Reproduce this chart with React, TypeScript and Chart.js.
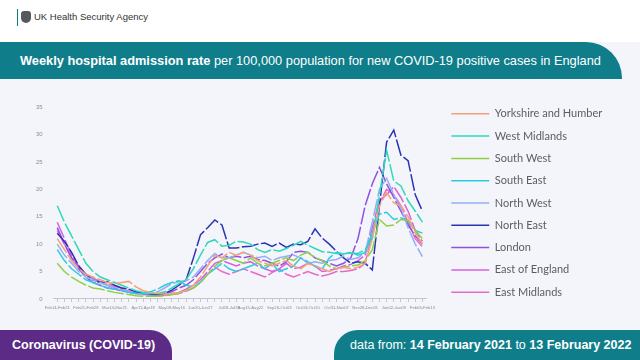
import React, { useEffect, useRef } from 'react';
import { Chart, registerables } from 'chart.js';

Chart.register(...registerables);

// Week start labels (52 weeks, 14 Feb 2021 – 13 Feb 2022)
const WEEKS = [
  'Feb14', 'Feb21', 'Feb28', 'Mar07', 'Mar14', 'Mar21', 'Mar28', 'Apr04', 'Apr11', 'Apr18', 'Apr25',
  'May02', 'May09', 'May16', 'May23', 'May30', 'Jun06', 'Jun13', 'Jun20', 'Jun27', 'Jul04', 'Jul11',
  'Jul18', 'Jul25', 'Aug01', 'Aug08', 'Aug15', 'Aug22', 'Aug29', 'Sep05', 'Sep12', 'Sep19', 'Sep26',
  'Oct03', 'Oct10', 'Oct17', 'Oct24', 'Oct31', 'Nov07', 'Nov14', 'Nov21', 'Nov28', 'Dec05', 'Dec12',
  'Dec19', 'Dec26', 'Jan02', 'Jan09', 'Jan16', 'Jan23', 'Jan30', 'Feb06',
];

// Tick labels shown on the x axis, and the week index each one sits at
const TICK_LABELS = [
  'Feb14-Feb21', 'Feb21-Feb28', 'Mar14-Mar21', 'Apr11-Apr18', 'May09-May16', 'Jun20-Jun27',
  'Jul18-Jul25', 'Aug15-Aug22', 'Sep26-Oct03', 'Oct03-Oct10', 'Oct31-Nov07', 'Nov28-Dec05',
  'Jan02-Jan09', 'Feb06-Feb13',
];
const TICK_INDEX = [0, 4, 8, 12, 16, 20, 24, 27, 31, 35, 39, 43, 47, 51];

const Y_TICKS = [0, 5, 10, 15, 20, 25, 30, 35];

const YORKSHIRE = [11, 9, 7, 5.5, 4.5, 4, 3.5, 3, 2.8, 3, 3.2, 2.2, 1.5, 1.2, 1, 0.9, 1, 1.2, 1.5, 2.5, 4, 6, 8, 7.5, 8.5, 8, 8.5, 8, 7, 6.5, 6, 6.5, 7, 6, 5.5, 6.5, 6, 5.5, 5, 5.5, 5.8, 5.5, 5.8, 6.5, 11, 17, 19.4, 17.5, 17, 15, 12, 10];
const WEST_MIDLANDS = [17, 14, 11.5, 9, 6.5, 5, 4, 3.5, 3, 2.5, 2, 1.5, 1.2, 1, 1, 1.3, 2, 2.8, 3.5, 5.5, 8, 10.3, 10.8, 9.6, 9.8, 10.5, 10.4, 10, 9, 8.5, 9, 8.7, 9.2, 9.8, 10.5, 9.8, 9.2, 8.6, 8.5, 8.3, 8.2, 8.4, 8.3, 9, 11, 19, 27.1, 21.5, 20.6, 17.9, 16, 14];
const SOUTH_WEST = [6.5, 5, 4, 3.2, 2.5, 2, 1.8, 1.5, 1.2, 1, 0.8, 0.6, 0.5, 0.5, 0.5, 0.6, 0.8, 1, 1.5, 2, 3, 4.5, 6, 7, 7.5, 7, 6.5, 7.5, 6.5, 6, 6.5, 7, 7.5, 7, 8, 8.5, 7.5, 7, 6, 5.5, 5.8, 6, 6.2, 7, 9, 14.5, 13.3, 13.5, 14.5, 14.3, 12.5, 11];
const SOUTH_EAST = [9, 7, 5.5, 4.5, 3.5, 3, 2.5, 2, 1.8, 1.5, 1.2, 1, 1, 1.3, 1.8, 2.5, 3, 3.3, 2.5, 2.2, 3, 4.5, 5.5, 6.5, 5.5, 5, 5.5, 6, 6.5, 5.5, 6.5, 5, 5.5, 6, 7.5, 6.8, 6, 5.5, 7.5, 8.5, 8.2, 8.5, 8, 8.5, 12, 15.5, 15.8, 14.5, 14.8, 14.2, 12.5, 12];
const NORTH_WEST = [10, 8, 6.5, 5, 4, 3.5, 3, 2.5, 2, 1.6, 1.3, 1, 0.9, 1, 1.3, 2, 2.8, 3.2, 3.3, 4, 5.5, 7, 8.3, 7.5, 7.5, 8, 8.5, 8, 7.5, 7.8, 7, 7.5, 7.8, 8, 7.5, 6.5, 6.8, 6.5, 7, 7.2, 7.8, 7.2, 7.5, 8.5, 14, 20, 22, 19, 16.5, 13, 10, 7.7];
const NORTH_EAST = [12, 10.5, 8.5, 6, 4.5, 3.5, 3, 3.2, 2.5, 2, 1.8, 1.3, 1, 0.9, 0.8, 1, 1.6, 2.5, 3.5, 7.4, 11.7, 13, 14.4, 13.5, 9.3, 9.3, 9.5, 9.6, 10, 10.2, 9.6, 10.2, 9.4, 10, 9.9, 10.5, 12.8, 11.1, 10, 8.7, 7.5, 6.5, 6.8, 6.5, 5.3, 17, 28.6, 30.8, 26.2, 25.2, 19, 16];
const LONDON = [13, 10, 7.5, 5.5, 4, 3, 2.5, 2, 1.8, 1.5, 1.2, 1, 0.8, 0.8, 0.8, 1, 1.3, 2, 2.5, 3.5, 5, 6.5, 7.5, 8.2, 7.5, 7.8, 7.5, 7.8, 7.2, 7, 6.5, 6, 6.8, 8.5, 8.7, 8.5, 7.5, 7, 6.5, 6, 6.5, 7.5, 11, 17, 21, 24, 21, 18.5, 16, 13.5, 11.5, 10];
const EAST_OF_ENGLAND = [14, 11, 8, 6, 4.5, 3.5, 3, 2.5, 2, 1.7, 1.4, 1.1, 0.9, 0.7, 0.6, 0.7, 0.9, 1.2, 1.8, 2.5, 3.5, 5, 6.5, 7, 6.5, 6, 6.5, 6.8, 6, 5.5, 5, 5.5, 6.5, 5.5, 5.8, 6.5, 6, 5, 5.2, 5.5, 6, 6.3, 7, 8, 13, 18, 19, 20.5, 18.5, 16, 12.5, 10.5];
const EAST_MIDLANDS = [12.5, 10, 7.5, 5.8, 4.5, 3.8, 3.2, 2.8, 2.3, 2, 1.7, 1.3, 1, 0.8, 0.6, 0.6, 0.8, 1, 1.4, 2, 3, 4.5, 5.8, 5, 4.5, 5, 5.5, 5, 4.5, 4, 4.8, 5.5, 4.5, 4, 4.5, 5, 4.5, 4.2, 4.5, 5, 5, 5.2, 5.5, 6.5, 12, 17.5, 20, 19, 17, 14, 11, 9.5];

const REGIONS = ['Yorkshire and Humber', 'West Midlands', 'South West', 'South East', 'North West', 'North East', 'London', 'East of England', 'East Midlands'];
const VALUES = [YORKSHIRE, WEST_MIDLANDS, SOUTH_WEST, SOUTH_EAST, NORTH_WEST, NORTH_EAST, LONDON, EAST_OF_ENGLAND, EAST_MIDLANDS];
const COLORS = ['#f4a07a', '#2fd8b8', '#8fcf45', '#2ccbe0', '#93aef2', '#2a33b5', '#9050e0', '#d660e0', '#e86ac8'];

const TEAL = '#0f7e8a';
const PURPLE = '#5b2b86';

const LEGEND_FONT = { family: 'Lato', size: 11 };
const LEGEND_PAD = 11.3;
const LEGEND_LINE = 38;
const LEGEND_START = 440; // left edge of legend box (px)

function ChartCanvas() {
  const ref = useRef<HTMLCanvasElement | null>(null);
  useEffect(() => {
    if (!ref.current) return;
    const tickMap: Record<number, string> = {};
    TICK_INDEX.forEach((idx, i) => { tickMap[idx] = TICK_LABELS[i]; });

    // measure legend text so the legend box can be placed where the reference has it
    const mctx = document.createElement('canvas').getContext('2d')!;
    mctx.font = `${LEGEND_FONT.size}px "${LEGEND_FONT.family}"`;
    const textW = Math.max(...REGIONS.map((r) => mctx.measureText(r).width));
    const legendW = LEGEND_PAD + LEGEND_LINE + LEGEND_FONT.size / 2 + textW + 10;
    const rightPad = Math.max(0, 640 - LEGEND_START - legendW);

    const chart = new Chart(ref.current, {
      type: 'line',
      data: {
        labels: WEEKS,
        datasets: REGIONS.map((label, i) => ({
          label,
          data: VALUES[i],
          borderColor: COLORS[i],
          backgroundColor: COLORS[i],
          borderWidth: 1.5,
          borderDash: [17, 2.5],
          pointRadius: 0,
          tension: 0,
          fill: false,
        })),
      },
      options: {
        responsive: false,
        animation: false,
        layout: { padding: { top: 7, left: 33, right: rightPad, bottom: 7 } },
        scales: {
          x: {
            offset: true,
            grid: { drawOnChartArea: false, drawTicks: true, tickLength: 3, color: '#c4c6cc' },
            border: { display: true, color: '#c4c6cc' },
            ticks: {
              autoSkip: false,
              maxRotation: 0,
              minRotation: 0,
              padding: 3,
              color: '#8a8d94',
              font: { family: 'Liberation Sans', size: 4.2 },
              callback: (_v: any, index: number) => tickMap[index] ?? '',
            },
          },
          y: {
            min: 0,
            max: 35,
            afterBuildTicks: (scale: any) => { scale.ticks = Y_TICKS.map((v) => ({ value: v })); },
            grid: { display: false },
            border: { display: false },
            ticks: { padding: 3, color: '#8a8d94', font: { family: 'Liberation Sans', size: 6 } },
          },
          yR: {
            type: 'linear',
            position: 'right',
            display: true,
            grid: { display: false },
            border: { display: false },
            ticks: { display: false },
            afterFit: (s: any) => { s.width = 14; },
          },
        },
        plugins: {
          title: { display: true, text: ' ', fullSize: false, font: { size: 1 }, padding: { top: 8.8, bottom: 0 } },
          legend: {
            position: 'right',
            align: 'start',
            maxWidth: 400,
            labels: {
              usePointStyle: true,
              pointStyle: 'line',
              pointStyleWidth: LEGEND_LINE,
              padding: LEGEND_PAD,
              color: '#5a5d66',
              font: LEGEND_FONT,
            },
          },
          tooltip: { enabled: false },
        },
      },
    });
    return () => chart.destroy();
  }, []);
  return <canvas ref={ref} width={640} height={230} style={{ display: 'block' }} />;
}

export default function App() {
  return (
    <div style={{ position: 'fixed', left: 0, top: 0, width: 640, height: 360, background: '#ffffff', overflow: 'hidden', fontFamily: '"Liberation Sans", Arial, sans-serif' }}>
      <div style={{ position: 'absolute', left: 17, top: 9, width: 1, height: 17, background: TEAL }} />
      <div style={{ position: 'absolute', left: 21, top: 11, width: 10, height: 12, background: '#55585e', borderRadius: '3px 3px 5px 5px' }} />
      <div style={{ position: 'absolute', left: 34, top: 10, fontSize: 9.5, color: '#333', lineHeight: '14px' }}>UK Health Security Agency</div>

      <div style={{ position: 'absolute', left: 0, top: 42, width: 640, height: 318, background: '#f4f5fa' }} />
      <div style={{ position: 'absolute', left: 0, top: 42, width: 622, height: 37, background: TEAL, borderTopRightRadius: 36 }} />
      <div style={{ position: 'absolute', left: 20, top: 42, height: 37, lineHeight: '37px', fontSize: 12.8, color: '#ffffff', whiteSpace: 'nowrap' }}>
        <b>Weekly hospital admission rate</b> per 100,000 population for new COVID-19 positive cases in England
      </div>

      <div style={{ position: 'absolute', left: 0, top: 90, width: 640, height: 230 }}>
        <ChartCanvas />
      </div>

      <div style={{ position: 'absolute', left: 0, top: 330, width: 172, height: 30, background: PURPLE, borderTopRightRadius: 22 }} />
      <div style={{ position: 'absolute', left: 12, top: 330, height: 30, lineHeight: '30px', fontSize: 12.5, fontWeight: 'bold', color: '#ffffff', whiteSpace: 'nowrap' }}>
        Coronavirus (COVID-19)
      </div>
      <div style={{ position: 'absolute', left: 334, top: 330, width: 306, height: 30, background: TEAL, borderTopLeftRadius: 24 }} />
      <div style={{ position: 'absolute', left: 350, top: 330, height: 30, lineHeight: '30px', fontSize: 12.5, color: '#ffffff', whiteSpace: 'nowrap' }}>
        data from: <b>14 February 2021</b> to <b>13 February 2022</b>
      </div>
    </div>
  );
}
